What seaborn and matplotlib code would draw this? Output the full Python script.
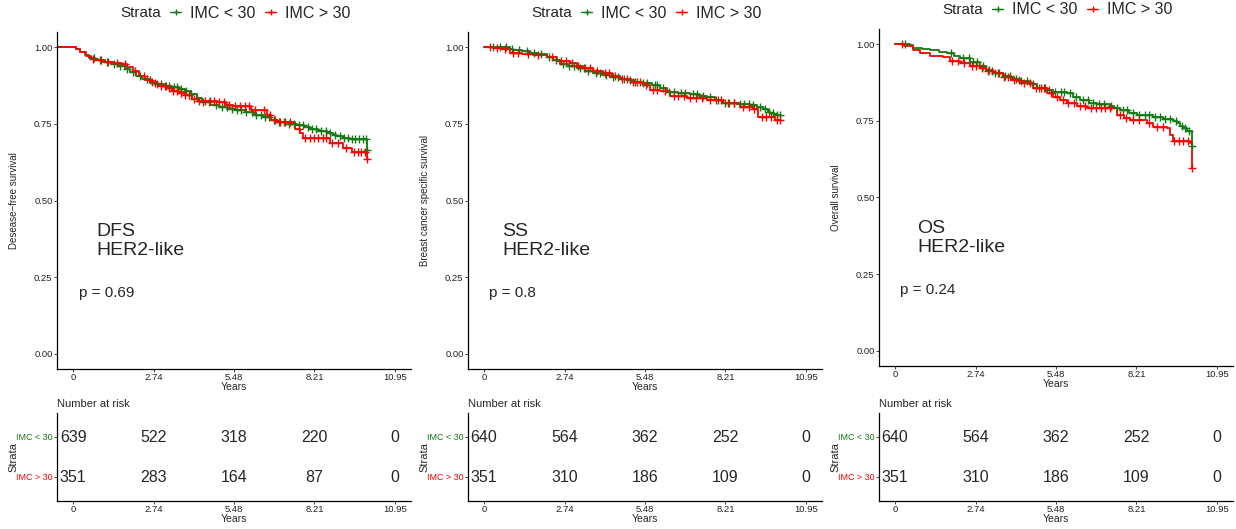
import numpy as np
import matplotlib
matplotlib.use("Agg")
import matplotlib.pyplot as plt
from matplotlib.lines import Line2D
import seaborn as sns

sns.set_style("ticks")
plt.rcParams["font.family"] = ["Liberation Sans", "DejaVu Sans"]

GREEN = "#137913"
RED = "#FF0000"
groups = ["IMC < 30", "IMC > 30"]
tick_years = [0, 2.74, 5.48, 8.21, 10.95]
tick_labels = ["0", "2.74", "5.48", "8.21", "10.95"]
surv_ticks = [0.0, 0.25, 0.50, 0.75, 1.00]
surv_labels = ["0.00", "0.25", "0.50", "0.75", "1.00"]

# ---- Disease-free survival (DFS) ----
dfs_lo_t = [-0.5, 0.10, 0.25, 0.40, 0.55, 0.75, 1.00, 1.30, 1.55, 1.75, 1.95, 2.15, 2.35, 2.60,
            2.85, 3.10, 3.35, 3.60, 3.80, 4.00, 4.20, 4.40, 4.65, 4.95, 5.25, 5.55, 5.85, 6.15,
            6.45, 6.75, 6.95, 7.30, 7.62, 7.85, 8.07, 8.35, 8.64, 8.85, 8.98, 9.20, 9.42, 10.00]
dfs_lo_s = [1.000, 0.995, 0.985, 0.975, 0.965, 0.958, 0.952, 0.947, 0.940, 0.930, 0.918, 0.905,
            0.895, 0.887, 0.879, 0.874, 0.870, 0.864, 0.856, 0.846, 0.835, 0.822, 0.812, 0.805,
            0.800, 0.794, 0.788, 0.780, 0.772, 0.764, 0.757, 0.751, 0.745, 0.739, 0.732, 0.727,
            0.721, 0.715, 0.710, 0.705, 0.702, 0.666]
dfs_lo_cens = [0.72, 0.95, 1.15, 1.38, 1.6, 1.82, 2.05, 2.28, 2.5, 2.68, 2.86, 3.0, 3.15, 3.28,
               3.42, 3.55, 3.68, 3.85, 4.02, 4.2, 4.42, 4.62, 4.85, 5.05, 5.22, 5.4, 5.58, 5.72,
               5.9, 6.08, 6.22, 6.38, 6.52, 6.68, 6.85, 7.02, 7.18, 7.35, 7.5, 7.68, 7.82, 7.98,
               8.12, 8.28, 8.45, 8.6, 8.75, 8.92, 9.08, 9.22, 9.35, 9.48, 9.6, 9.72, 9.85, 9.95, 10.0]
dfs_hi_t = [-0.5, 0.10, 0.25, 0.45, 0.60, 0.80, 1.10, 1.40, 1.65, 1.85, 2.05, 2.25, 2.45, 2.70,
            2.90, 3.15, 3.35, 3.60, 3.80, 4.05, 4.30, 4.90, 5.20, 5.45, 6.05, 6.40, 6.60, 6.75,
            6.95, 7.56, 7.73, 7.83, 8.75, 9.20, 9.50, 10.00]
dfs_hi_s = [1.000, 0.993, 0.984, 0.973, 0.963, 0.958, 0.953, 0.948, 0.944, 0.936, 0.922, 0.905,
            0.893, 0.882, 0.874, 0.866, 0.859, 0.851, 0.843, 0.830, 0.826, 0.821, 0.812, 0.807,
            0.797, 0.794, 0.780, 0.763, 0.756, 0.732, 0.720, 0.705, 0.687, 0.671, 0.659, 0.636]
dfs_hi_cens = [0.68, 0.9, 1.2, 1.5, 1.78, 2.1, 2.4, 2.62, 2.8, 2.98, 3.12, 3.25, 3.4, 3.52, 3.66,
               3.8, 3.95, 4.12, 4.3, 4.48, 4.65, 4.8, 4.95, 5.12, 5.3, 5.5, 5.68, 5.85, 6.0, 6.2,
               6.48, 6.7, 6.88, 7.05, 7.2, 7.38, 7.7, 7.9, 8.05, 8.2, 8.35, 8.5, 8.62, 8.82, 9.0,
               9.3, 9.55, 9.68, 9.8, 9.92, 10.0]
dfs_risk_lo = [639, 522, 318, 220, 0]
dfs_risk_hi = [351, 283, 164, 87, 0]

# ---- Breast cancer specific survival (SS) ----
ss_lo_t = [0.00, 0.88, 1.00, 1.30, 1.56, 1.85, 2.14, 2.35, 2.59, 2.85, 3.16, 3.45, 3.70, 4.00,
           4.29, 4.60, 4.86, 5.10, 5.30, 5.70, 6.00, 6.22, 6.60, 7.00, 7.30, 7.59, 7.85, 8.14,
           8.60, 9.05, 9.28, 9.50, 9.65, 9.73, 9.85, 10.07]
ss_lo_s = [1.000, 0.995, 0.990, 0.987, 0.983, 0.977, 0.970, 0.958, 0.947, 0.940, 0.931, 0.923,
           0.915, 0.909, 0.904, 0.898, 0.893, 0.887, 0.882, 0.876, 0.866, 0.855, 0.851, 0.847,
           0.842, 0.838, 0.828, 0.817, 0.815, 0.812, 0.806, 0.800, 0.790, 0.784, 0.779, 0.779]
ss_lo_cens = [0.3, 0.55, 0.75, 0.95, 1.2, 1.45, 1.7, 1.95, 2.2, 2.45, 2.7, 2.9, 3.05, 3.25, 3.4,
              3.55, 3.8, 3.95, 4.15, 4.4, 4.55, 4.75, 4.95, 5.15, 5.4, 5.55, 5.8, 5.9, 6.1, 6.3,
              6.45, 6.7, 6.85, 7.1, 7.25, 7.45, 7.7, 7.95, 8.2, 8.35, 8.5, 8.7, 8.85, 9.0, 9.15,
              9.4, 9.55, 9.7, 9.82, 9.95, 10.07]
ss_hi_t = [0.00, 0.30, 0.60, 0.88, 1.30, 1.67, 2.14, 2.48, 2.93, 3.15, 3.37, 3.70, 4.05, 4.35,
           4.63, 5.00, 5.41, 5.65, 6.00, 6.33, 6.90, 7.59, 8.14, 8.70, 9.15, 9.32, 9.90, 10.07]
ss_hi_s = [1.000, 0.997, 0.993, 0.983, 0.978, 0.974, 0.970, 0.954, 0.949, 0.940, 0.932, 0.923,
           0.915, 0.906, 0.898, 0.887, 0.876, 0.862, 0.858, 0.840, 0.835, 0.829, 0.817, 0.806,
           0.800, 0.773, 0.762, 0.762]
ss_hi_cens = [0.2, 0.45, 0.7, 1.0, 1.15, 1.5, 1.85, 2.3, 2.6, 2.8, 3.0, 3.2, 3.45, 3.6, 3.85, 4.1,
              4.25, 4.45, 4.7, 4.85, 5.05, 5.2, 5.3, 5.5, 5.75, 5.9, 6.15, 6.45, 6.6, 6.8, 7.0,
              7.2, 7.4, 7.7, 7.9, 8.05, 8.3, 8.5, 8.8, 9.0, 9.2, 9.45, 9.6, 9.75, 9.95, 10.07]
ss_risk_lo = [640, 564, 362, 252, 0]
ss_risk_hi = [351, 310, 186, 109, 0]

# ---- Overall survival (OS) ----
os_lo_t = [0.00, 0.50, 0.62, 0.90, 1.19, 1.50, 1.76, 2.00, 2.20, 2.55, 2.90, 3.10, 3.34, 3.67,
           3.95, 4.25, 4.55, 4.83, 5.10, 5.37, 5.84, 6.05, 6.30, 6.60, 6.86, 7.30, 7.45, 7.65,
           7.95, 8.22, 8.78, 9.10, 9.46, 9.60, 9.69, 9.80, 9.92, 10.10]
os_lo_s = [1.000, 0.998, 0.989, 0.985, 0.981, 0.976, 0.971, 0.963, 0.955, 0.942, 0.928, 0.916,
           0.906, 0.895, 0.887, 0.879, 0.869, 0.858, 0.850, 0.845, 0.840, 0.828, 0.818, 0.810,
           0.805, 0.799, 0.792, 0.786, 0.776, 0.769, 0.762, 0.756, 0.751, 0.742, 0.734, 0.726,
           0.718, 0.669]
os_lo_cens = [0.35, 1.9, 2.3, 2.5, 2.65, 2.8, 3.0, 3.2, 3.4, 3.55, 3.75, 3.9, 4.1, 4.3, 4.5, 4.7,
              4.9, 5.05, 5.25, 5.45, 5.65, 5.75, 5.95, 6.15, 6.4, 6.55, 6.75, 6.95, 7.1, 7.35,
              7.55, 7.75, 7.9, 8.1, 8.3, 8.5, 8.65, 8.85, 9.0, 9.2, 9.35, 9.55, 9.75, 9.85, 10.0, 10.1]
os_hi_t = [0.00, 0.30, 0.50, 0.62, 0.84, 1.19, 1.63, 1.87, 2.20, 2.55, 2.90, 3.10, 3.34, 3.67,
           4.00, 4.25, 4.70, 5.17, 5.37, 5.60, 5.84, 6.20, 6.53, 7.55, 7.80, 8.00, 8.57, 8.78,
           9.25, 9.35, 9.46, 10.05, 10.10]
os_hi_s = [1.000, 0.996, 0.993, 0.981, 0.971, 0.963, 0.957, 0.944, 0.940, 0.928, 0.922, 0.914,
           0.906, 0.892, 0.882, 0.873, 0.857, 0.841, 0.829, 0.819, 0.807, 0.799, 0.791, 0.769,
           0.760, 0.753, 0.744, 0.731, 0.726, 0.704, 0.686, 0.677, 0.596]
os_hi_cens = [0.25, 1.95, 2.15, 2.35, 2.6, 2.75, 2.95, 3.15, 3.3, 3.5, 3.7, 3.85, 4.05, 4.2, 4.4,
              4.6, 4.8, 4.95, 5.1, 5.3, 5.5, 5.7, 5.9, 6.1, 6.3, 6.45, 6.65, 6.85, 7.0, 7.15,
              7.3, 7.65, 7.85, 8.1, 8.3, 8.65, 8.9, 9.1, 9.5, 9.65, 9.8, 9.95, 10.1]
os_risk_lo = [640, 564, 362, 252, 0]
os_risk_hi = [351, 310, 186, 109, 0]

panels = [
    dict(ylabel="Desease\u2212free survival", tag="DFS\nHER2-like", pval="p = 0.69",
         curves=[(dfs_lo_t, dfs_lo_s, dfs_lo_cens, GREEN), (dfs_hi_t, dfs_hi_s, dfs_hi_cens, RED)],
         risk=[dfs_risk_lo, dfs_risk_hi], tag_x=0.78, p_x=0.2, shift=0),
    dict(ylabel="Breast cancer specific survival", tag="SS\nHER2-like", pval="p = 0.8",
         curves=[(ss_lo_t, ss_lo_s, ss_lo_cens, GREEN), (ss_hi_t, ss_hi_s, ss_hi_cens, RED)],
         risk=[ss_risk_lo, ss_risk_hi], tag_x=0.61, p_x=0.17, shift=0),
    dict(ylabel="Overall survival", tag="OS\nHER2-like", pval="p = 0.24",
         curves=[(os_lo_t, os_lo_s, os_lo_cens, GREEN), (os_hi_t, os_hi_s, os_hi_cens, RED)],
         risk=[os_risk_lo, os_risk_hi], tag_x=0.75, p_x=0.17, shift=3),
]

W, H = 1236, 529
fig = plt.figure(figsize=(W / 100, H / 100), dpi=100)
fig.patch.set_facecolor("white")
XLIM = (-0.5475, 11.4975)


def px_axes(left, top, right, bottom):
    return fig.add_axes([left / W, 1 - bottom / H, (right - left) / W, (bottom - top) / H])


def style_axis(ax):
    sns.despine(ax=ax)
    for sp in ("left", "bottom"):
        ax.spines[sp].set_linewidth(0.9)
        ax.spines[sp].set_color("black")
    ax.tick_params(axis="both", length=2.2, width=0.6, pad=1.0, labelsize=6.8,
                   colors="#222222")
    ax.set_facecolor("white")


def step_value(t, s, when):
    idx = np.searchsorted(np.asarray(t), np.asarray(when), side="right") - 1
    return np.asarray(s)[np.clip(idx, 0, len(s) - 1)]


for k, p in enumerate(panels):
    x0 = 57 + 411 * k
    x1 = x0 + 354
    sh = p["shift"]

    # survival curves
    ax = px_axes(x0, 32 - sh, x1, 369 - sh)
    for t, s, cens, col in p["curves"]:
        sns.lineplot(x=t, y=s, ax=ax, color=col, linewidth=1.3, estimator=None, sort=False,
                     drawstyle="steps-post")
        sns.scatterplot(x=cens, y=step_value(t, s, cens), ax=ax, marker="+", s=26,
                        color=col, linewidth=1.0, zorder=3)
    ax.set_xlim(*XLIM)
    ax.set_ylim(-0.05, 1.05)
    ax.set_xticks(tick_years, tick_labels)
    ax.set_yticks(surv_ticks, surv_labels)
    style_axis(ax)
    ax.set_xlabel("Years", fontsize=7.5)
    ax.xaxis.set_label_coords(0.5, -0.039)
    ax.set_ylabel(p["ylabel"], fontsize=7)
    ax.yaxis.set_label_coords(-0.106, 0.5)
    ax.text(p["tag_x"], 0.368, p["tag"], fontsize=14, ha="left", va="center", linespacing=1.12)
    ax.text(p["p_x"], 0.199, p["pval"], fontsize=11, ha="left", va="center")

    # legend across the top
    legend_y = 1 - (13 - sh) / H
    fig.text((120 + 411 * k) / W, legend_y, "Strata", fontsize=11, ha="left", va="center")
    handles = [Line2D([0], [0], color=GREEN, lw=1.0, marker="+", markersize=5, mew=1.0),
               Line2D([0], [0], color=RED, lw=1.0, marker="+", markersize=5, mew=1.0)]
    fig.legend(handles, groups, loc="center left", ncol=2, frameon=False, fontsize=11.5,
               bbox_to_anchor=((170 + 411 * k) / W, legend_y), bbox_transform=fig.transFigure,
               borderpad=0, borderaxespad=0, handlelength=0.7, handletextpad=0.55,
               columnspacing=0.6)

    # number-at-risk table
    rt = px_axes(x0, 413, x1, 501)
    rt.set_xlim(*XLIM)
    rt.set_ylim(0.4, 2.6)
    rows = [2, 1]
    for row, counts in zip(rows, p["risk"]):
        for xv, n in zip(tick_years, counts):
            rt.text(xv, row, str(n), ha="center", va="center", fontsize=11.5)
    rt.set_xticks(tick_years, tick_labels)
    rt.set_yticks(rows, groups)
    style_axis(rt)
    rt.tick_params(axis="y", labelsize=6.4)
    for lab, col in zip(rt.get_yticklabels(), [GREEN, RED]):
        lab.set_color(col)
    rt.set_xlabel("Years", fontsize=7.5)
    rt.xaxis.set_label_coords(0.5, -0.15)
    rt.set_ylabel("Strata", fontsize=8)
    rt.yaxis.set_label_coords(-0.11, 0.5)
    rt.text(0.0, 1.0 + 9 / 88, "Number at risk", transform=rt.transAxes, fontsize=8,
            ha="left", va="center")

fig.savefig("out.png", dpi=100, facecolor="white")
